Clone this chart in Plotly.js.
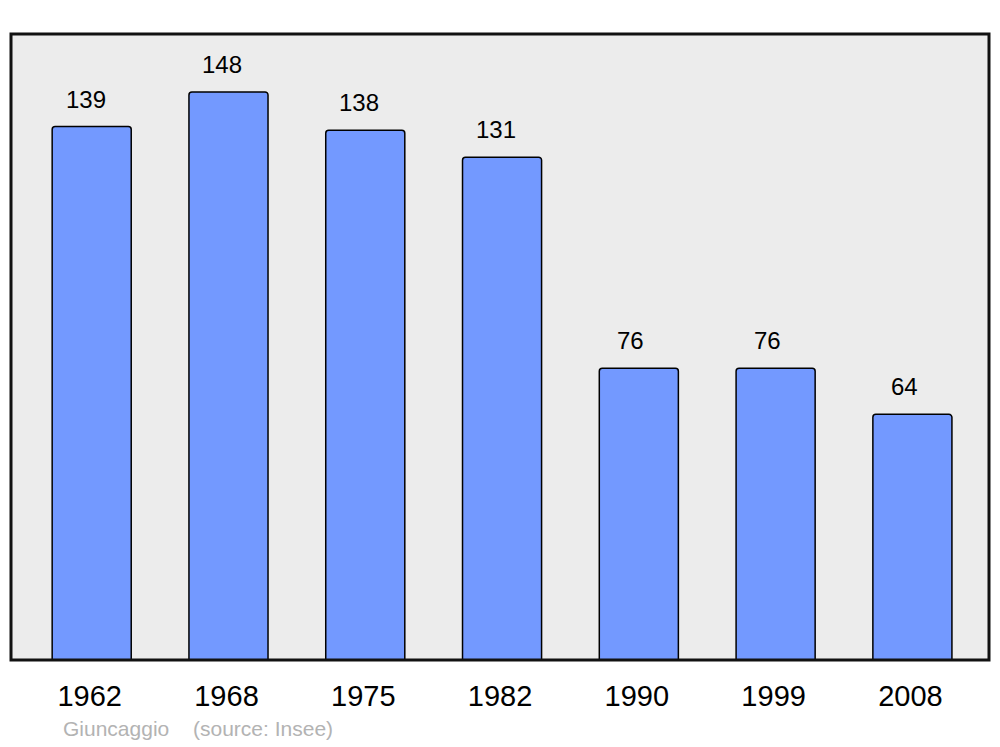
<!DOCTYPE html>
<html>
<head>
<meta charset="utf-8">
<script src="https://cdn.plot.ly/plotly-3.0.1.min.js"></script>
<style>html,body{margin:0;padding:0;background:#fff;}</style>
</head>
<body>
<div id="chart" style="width:1000px;height:747px;"></div>
<script>
const years = ['1962', '1968', '1975', '1982', '1990', '1999', '2008'];
const population = [139, 148, 138, 131, 76, 76, 64];
const author = 'Giuncaggio';
const source = '(source: Insee)';

const font = 'Liberation Sans, Arial, sans-serif';

const valueLabels = years.map((y, i) => ({
  x: i, y: population[i], xref: 'x', yref: 'y',
  text: String(population[i]), showarrow: false,
  yanchor: 'bottom', yshift: 12, xshift: String(population[i]).length > 2 ? -6 : -8,
  font: {family: font, size: 24, color: '#000'}
}));

const layout = {
  width: 1000, height: 747,
  margin: {l: 11, r: 11, t: 34, b: 87},
  paper_bgcolor: '#ffffff',
  plot_bgcolor: '#ececec',
  showlegend: false,
  bargap: 0.422,
  barcornerradius: 3,
  xaxis: {
    type: 'category', range: [-0.59, 6.56],
    showgrid: false, zeroline: false, showline: false,
    ticks: '', tickfont: {family: font, size: 29, color: '#000'},
    ticklabelstandoff: 16, ticklabelshift: -2, fixedrange: true
  },
  yaxis: {
    range: [0, 163.1], showgrid: false, zeroline: false,
    showline: false, showticklabels: false, ticks: '', fixedrange: true
  },
  shapes: [{
    type: 'rect', xref: 'paper', yref: 'paper', x0: 0, x1: 1, y0: 0, y1: 1,
    line: {color: '#111', width: 3}, fillcolor: 'rgba(0,0,0,0)', layer: 'above'
  }],
  annotations: valueLabels.concat([
    {xref: 'paper', yref: 'paper', x: 0.0511, y: -0.11, xanchor: 'left', yanchor: 'middle',
     text: author, showarrow: false, font: {family: font, size: 21, color: '#b3b3b3'}},
    {xref: 'paper', yref: 'paper', x: 0.1845, y: -0.11, xanchor: 'left', yanchor: 'middle',
     text: source, showarrow: false, font: {family: font, size: 21, color: '#b3b3b3'}}
  ])
};

Plotly.newPlot('chart', [{
  type: 'bar', x: years, y: population,
  marker: {color: '#7399ff', line: {color: '#000', width: 1.5}},
  hoverinfo: 'none', cliponaxis: false
}], layout, {displayModeBar: false, staticPlot: true});
</script>
</body>
</html>
